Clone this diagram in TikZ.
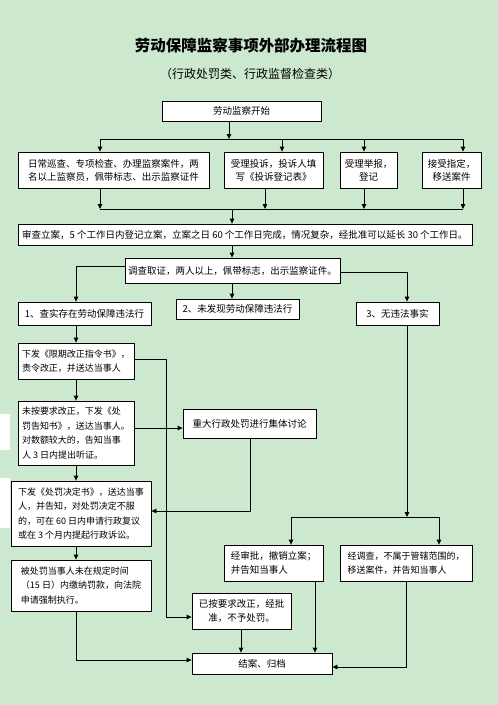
\documentclass[tikz,border=0pt]{standalone}
\usepackage{fontspec}
\setmainfont{Noto Sans CJK SC}
\usetikzlibrary{arrows.meta}
\definecolor{bgc}{RGB}{204,232,206}
\tikzset{
  box/.style={draw=black, line width=0.8pt, fill=white, inner xsep=3pt, inner ysep=0pt, align=center,
    font=\fontsize{9.5}{14}\selectfont},
  small/.style={font=\fontsize{9}{14.5}\selectfont},
  arr/.style={-{Triangle[length=5pt,width=4.5pt]}, line width=0.8pt},
  ln/.style={line width=0.8pt},
  patch/.style={fill=white, draw=none},
}
\begin{document}
\begin{tikzpicture}[x=1pt,y=-1pt]
\fill[bgc] (0,0) rectangle (498,705);
\useasboundingbox (0,0) rectangle (498,705);
\fill[patch] (0,414) rectangle (10,450);
\fill[patch] (0,478) rectangle (10,528);

\node[font=\bfseries\fontsize{15.5}{18}\selectfont] (title) at (251,46) {劳动保障监察事项外部办理流程图};
\node[font=\fontsize{12}{14}\selectfont] (sub) at (250,74) {（行政处罚类、行政监督检查类）};

\node[box, minimum width=159pt, minimum height=20pt] (st) at (241.5,111) {劳动监察开始};

\node[box, minimum width=191pt, minimum height=36pt, font=\fontsize{9.5}{13}\selectfont] (A) at (113.5,170) {日常巡查、专项检查、办理监察案件，两\\名以上监察员，佩带标志、出示监察证件};
\node[box, minimum width=99pt, minimum height=36pt, font=\fontsize{9.5}{13}\selectfont] (B) at (273.5,170) {受理投诉，投诉人填\\写《投诉登记表》};
\node[box, minimum width=57pt, minimum height=36pt, font=\fontsize{9.5}{13}\selectfont] (C) at (368.5,170) {受理举报，\\登记};
\node[box, minimum width=59pt, minimum height=36pt, font=\fontsize{9.5}{13}\selectfont] (D) at (451.5,170) {接受指定，\\移送案件};

\node[box, minimum width=454pt, minimum height=21pt] (E) at (245,234.5) {审查立案，5 个工作日内登记立案，立案之日 60 个工作日完成，情况复杂，经批准可以延长 30 个工作日。};

\node[box, minimum width=215pt, minimum height=25pt] (F) at (232.5,270.5) {调查取证，两人以上，佩带标志，出示监察证件。};

\node[box, minimum width=133pt, minimum height=23pt] (G) at (84.5,313.5) {1、查实存在劳动保障违法行};
\node[box, minimum width=123pt, minimum height=20pt] (H) at (237.5,309) {2、未发现劳动保障违法行};
\node[box, minimum width=83pt, minimum height=23pt] (I) at (397.5,313.5) {3、无违法事实};

\node[box, small, minimum width=116pt, minimum height=36pt, align=left] (J) at (76,361) {下发《限期改正指令书》，\\责令改正，并送达当事人};
\node[box, small, minimum width=116pt, minimum height=64pt, align=left] (K) at (76,433) {未按要求改正，下发《处\\罚告知书》，送达当事人。\\对数额较大的，告知当事\\人 3 日内提出听证。};
\node[box, minimum width=133pt, minimum height=29pt] (L) at (249.5,423.5) {重大行政处罚进行集体讨论};

\node[box, small, minimum width=140pt, minimum height=65pt, align=left] (M) at (81,513.5) {下发《处罚决定书》，送达当事\\人，并告知，对处罚决定不服\\的，可在 60 日内申请行政复议\\或在 3 个月内提起行政诉讼。};
\node[box, small, minimum width=140pt, minimum height=51pt, align=left] (N) at (81,585.5) {被处罚当事人未在规定时间\\（15 日）内缴纳罚款，向法院\\申请强制执行。};

\node[box, minimum width=99pt, minimum height=36pt] (O) at (241.5,611) {已按要求改正，经批\\准，不予处罚。};
\node[box, minimum width=140pt, minimum height=21pt] (P) at (262,663.5) {结案、归档};

\node[box, minimum width=99pt, minimum height=36pt, align=left] (Q) at (273.5,563) {经审批，撤销立案；\\并告知当事人};
\node[box, small, minimum width=132pt, minimum height=36pt, align=left] (R) at (406,563) {经调查，不属于管辖范围的，\\移送案件，并告知当事人};

% top bus
\coordinate (t0) at (229,139);
\coordinate (ta) at (100,139);
\coordinate (tb) at (282,139);
\coordinate (tc) at (364,139);
\coordinate (td) at (463,139);
\draw[arr] (st.south -| t0) -- (t0);
\draw[ln] (ta) -- (td);
\draw[arr] (ta) -- (ta |- A.north);
\draw[arr] (tb) -- (tb |- B.north);
\draw[arr] (tc) -- (tc |- C.north);
\draw[arr] (td) -- (td |- D.north);

% bottom bus
\coordinate (ba) at (100,209);
\coordinate (bb) at (265,209);
\coordinate (bc) at (364,209);
\coordinate (bd) at (463,209);
\coordinate (b0) at (232,209);
\draw[ln] (ba) -- (bd);
\draw[arr] (A.south -| ba) -- (ba);
\draw[arr] (B.south -| bb) -- (bb);
\draw[arr] (C.south -| bc) -- (bc);
\draw[arr] (D.south -| bd) -- (bd);
\draw[arr] (b0) -- (b0 |- E.north);

\coordinate (c0) at (232,0);
\draw[arr] (E.south -| c0) -- (F.north -| c0);
\draw[arr] (F.south -| c0) -- (H.north -| c0);

\coordinate (fl) at (76,266);
\draw[arr] (F.west |- fl) -- (fl) -- (fl |- G.north);
\coordinate (fr) at (407,272);
\draw[arr] (F.east |- fr) -- (fr) -- (fr |- I.north);

\coordinate (c1) at (76,0);
\draw[arr] (G.south -| c1) -- (J.north -| c1);
\draw[arr] (J.south -| c1) -- (K.north -| c1);
\draw[arr] (K.south -| c1) -- (M.north -| c1);
\draw[arr] (M.south -| c1) -- (N.north -| c1);

\coordinate (jr) at (166,359);
\coordinate (jd) at (166,617);
\draw[arr] (J.east |- jr) -- (jr) -- (jd) -- (O.west |- jd);

\coordinate (kr) at (0,428);
\draw[arr] (K.east |- kr) -- (L.west |- kr);

\coordinate (ld) at (250,511);
\draw[arr] (L.south -| ld) -- (ld) -- (M.east |- ld);

\coordinate (nd) at (76,660);
\draw[arr] (N.south -| nd) -- (nd) -- (P.west |- nd);

\coordinate (c2) at (241,0);
\draw[arr] (O.south -| c2) -- (P.north -| c2);

\coordinate (i0) at (407,517);
\coordinate (iq) at (291,517);
\coordinate (ir) at (439,517);
\draw[arr] (I.south -| i0) -- (i0);
\draw[ln] (iq) -- (ir);
\draw[arr] (iq) -- (iq |- Q.north);
\draw[arr] (ir) -- (ir |- R.north);

\coordinate (c3) at (315,0);
\draw[arr] (Q.south -| c3) -- (P.north -| c3);
\coordinate (rd) at (406,667);
\draw[arr] (R.south -| rd) -- (rd) -- (P.east |- rd);
\end{tikzpicture}
\end{document}
